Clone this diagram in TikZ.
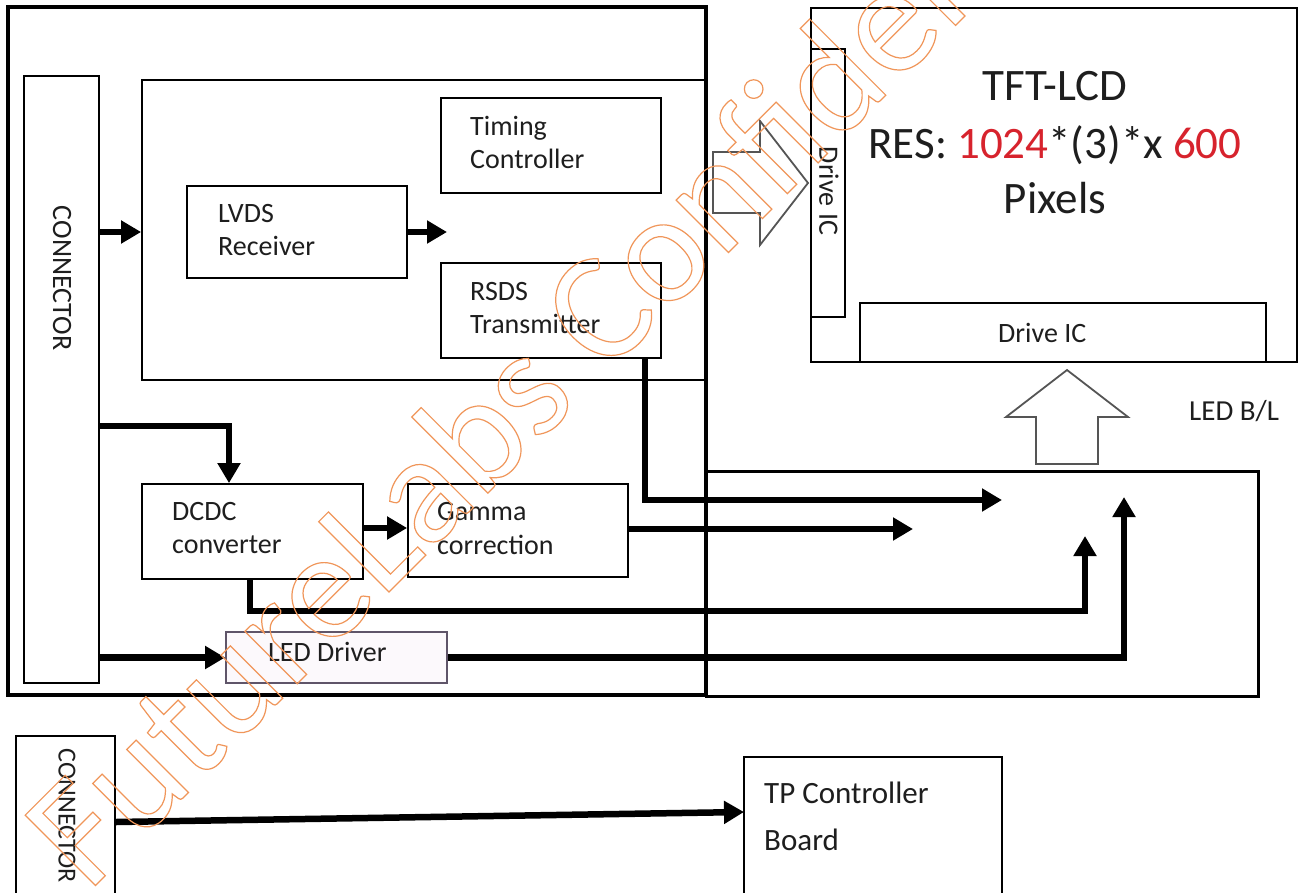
\documentclass[tikz,border=0pt]{standalone}
\usepackage{fontspec}
\setmainfont{Carlito}
\usetikzlibrary{arrows.meta}
\definecolor{wm}{RGB}{240,150,90}
\definecolor{redtxt}{RGB}{215,35,45}
\definecolor{ledfill}{RGB}{252,249,252}
\definecolor{ledborder}{RGB}{95,85,105}
\definecolor{txt}{RGB}{30,30,30}
\definecolor{hollow}{RGB}{85,85,85}
\newcommand{\setfs}[1]{\fontsize{#1}{#1}\selectfont}
\begin{document}
\begin{tikzpicture}[x=1pt,y=-1pt,
  box/.style={draw, line width=1.8pt, inner sep=0pt},
  lbl/.style={anchor=base west, inner sep=0pt, text=txt, font=\setfs{28}},
  vlbl/.style={rotate=-90, inner sep=0pt, text=txt},
  arr/.style={line width=6.5pt, line join=miter, -{Triangle[length=20pt,width=22pt]}},
  hol/.style={draw=hollow, line width=1.8pt, fill=white, line join=miter}]
\clip (0,0) rectangle (1301,892);
\fill[white] (0,0) rectangle (1301,892);

% ---------- main board frames ----------
\node[box, line width=3.4pt, minimum width=698pt, minimum height=688pt] (A) at (357,351) {};
\node[box, line width=3pt, minimum width=552pt, minimum height=225pt] (B) at (982,583.5) {};
\node[box, minimum width=564pt, minimum height=300pt] (C) at (424,230) {};
\node[box, minimum width=75pt, minimum height=607pt] (conn1) at (61.5,379.5) {};
\node[vlbl, font=\setfs{28}] (conn1t) at (62,278) {CONNECTOR};

% ---------- blocks ----------
\node[box, minimum width=220pt, minimum height=95pt] (timing) at (551,145.5) {};
\node[lbl] (timingt1) at (470,135) {Timing};
\node[lbl] (timingt2) at (470,168) {Controller};

\node[box, minimum width=220pt, minimum height=92pt] (lvds) at (297,232) {};
\node[lbl] (lvdst1) at (218,222) {LVDS};
\node[lbl] (lvdst2) at (218,255) {Receiver};

\node[box, minimum width=220pt, minimum height=95pt] (rsds) at (551,310.5) {};
\node[lbl] (rsdst1) at (470,300) {RSDS};
\node[lbl] (rsdst2) at (470,333) {Transmitter};

\node[box, minimum width=221pt, minimum height=95pt] (dcdc) at (252.5,531.5) {};
\node[lbl] (dcdct1) at (172,520) {DCDC};
\node[lbl] (dcdct2) at (172,553) {converter};

\node[box, minimum width=220pt, minimum height=93pt] (gamma) at (518,530.5) {};
\node[lbl] (gammat1) at (437,520) {Gamma};
\node[lbl] (gammat2) at (437,554) {correction};

\node[box, draw=ledborder, fill=ledfill, minimum width=221pt, minimum height=51pt] (led) at (336.5,657.5) {};
\node[lbl] (ledt) at (268,661) {LED Driver};

% ---------- TFT panel ----------
\node[box, minimum width=486pt, minimum height=354pt] (tft) at (1054,185) {};
\node[box, fill=white, minimum width=34pt, minimum height=268pt] (dic1) at (828,183) {};
\node[vlbl, font=\setfs{28}] (dic1t) at (829,191) {Drive IC};
\node[box, minimum width=406pt, minimum height=59pt] (dic2) at (1063,332.5) {};
\node[lbl] (dic2t) at (998,342) {Drive IC};
\node[anchor=base, inner sep=0pt, text=txt, font=\setfs{45}] (tftt1) at (1055,100) {TFT-LCD};
\node[anchor=base, inner sep=0pt, text=txt, font=\setfs{45}] (tftt2) at (1055,158)
  {RES: \textcolor{redtxt}{1024}*(3)*x \textcolor{redtxt}{600}};
\node[anchor=base, inner sep=0pt, text=txt, font=\setfs{45}] (tftt3) at (1055,213) {Pixels};
\node[lbl, font=\setfs{29}] (ledbl) at (1189,420) {LED B/L};

% hollow arrows
\draw[hol] (713,152) -- (760,152) -- (760,121) -- (808,183) -- (760,245) -- (760,213) -- (713,213) -- cycle;
\draw[hol] (1036,464) -- (1036,417) -- (1006,417) -- (1067,370) -- (1128,417) -- (1098,417) -- (1098,464) -- cycle;

% ---------- touch panel ----------
\node[box, minimum width=99pt, minimum height=164pt] (conn2) at (65.5,818) {};
\node[vlbl, font=\setfs{26}] (conn2t) at (67,816) {CONNECTOR};
\node[box, minimum width=258pt, minimum height=143pt] (tp) at (873,828.5) {};
\node[lbl, font=\setfs{31}] (tpt1) at (764,803) {TP Controller};
\node[lbl, font=\setfs{31}] (tpt2) at (764,850) {Board};

% ---------- connectors ----------
\coordinate (lvdsout) at (447,232);
\coordinate (dcdcjoin) at (229,426);
\coordinate (rsdsbend) at (645,500);
\coordinate (rsdstip) at (1002,500);
\coordinate (gammatip) at (913,529);
\coordinate (dcdcbend) at (250,611);
\coordinate (dcdccorner) at (1085,611);
\coordinate (dcdctip) at (1085,536);
\coordinate (ledcorner) at (1124,657.5);
\coordinate (ledtip) at (1124,497);
\coordinate (tptip) at (744,812);

\draw[arr] (conn1.east |- lvds.west) -- (C.west |- lvds.west);
\draw[arr] (lvds.east) -- (lvdsout);
\draw[arr] (conn1.east |- dcdcjoin) -- (dcdcjoin) -- (dcdc.north -| dcdcjoin);
\draw[arr] (dcdc.east |- 0,528) -- (gamma.west |- 0,528);
\draw[arr] (conn1.east |- led.west) -- (led.west);
\draw[arr] (rsds.south -| rsdsbend) -- (rsdsbend) -- (rsdstip);
\draw[arr] (gamma.east |- gammatip) -- (gammatip);
\draw[arr] (dcdc.south -| dcdcbend) -- (dcdcbend) -- (dcdccorner) -- (dcdctip);
\draw[arr] (led.east) -- (ledcorner) -- (ledtip);
\draw[arr] (conn2.east |- 0,822) -- (tptip);

% ---------- watermark ----------
\node[rotate=45, anchor=base west, inner sep=0pt, text=wm, font=\setfs{155}] (wmark) at (88,893)
  {\special{pdf:code 1 Tr 1.2 w}FutureLabs Confidential\special{pdf:code 0 Tr}};
\end{tikzpicture}
\end{document}
